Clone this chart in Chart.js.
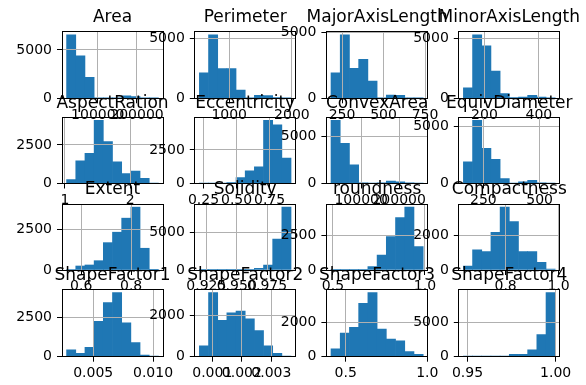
<!DOCTYPE html>
<html>
<head>
<meta charset="utf-8">
<script src="https://cdn.jsdelivr.net/npm/chart.js@4.4.1/dist/chart.umd.min.js"></script>
<style>
  html, body { margin: 0; padding: 0; background: #fff; }
  #wrap { position: relative; width: 586px; height: 385px; overflow: hidden; }
  #wrap canvas { position: absolute; left: -60px; top: -60px; }
</style>
</head>
<body>
<div id="wrap"></div>
<script>
// one histogram per column, 10 bins each
const names = ['Area', 'Perimeter', 'MajorAxisLength', 'MinorAxisLength',
  'AspectRation', 'Eccentricity', 'ConvexArea', 'EquivDiameter',
  'Extent', 'Solidity', 'roundness', 'Compactness',
  'ShapeFactor1', 'ShapeFactor2', 'ShapeFactor3', 'ShapeFactor4'];

// lowest and highest value of each column (first and last bin edge)
const binMin = [20420, 524.736, 183.601, 122.513, 1.0249, 0.219, 20684, 161.243,
  0.5414, 0.919246, 0.489618, 0.640577, 0.002778, 0.000564, 0.410339, 0.947687];
const binMax = [254616, 1985.37, 738.86, 460.198, 2.4303, 0.9114, 263261, 569.374,
  0.9093, 0.994677, 0.990685, 0.987303, 0.010451, 0.003665, 0.974767, 0.999733];

// bin counts
const area          = [6550, 4390, 2170, 60, 15, 60, 260, 190, 60, 12];
const perimeter     = [2130, 5330, 2500, 2500, 690, 40, 240, 220, 60, 3];
const majorAxis     = [1940, 4820, 2270, 2955, 1310, 30, 250, 230, 40, 3];
const minorAxis     = [860, 5265, 4350, 2260, 390, 60, 110, 250, 110, 5];
const aspectRation  = [260, 1475, 1960, 4090, 2720, 1410, 650, 800, 330, 10];
const eccentricity  = [2, 5, 20, 75, 450, 950, 1250, 4700, 4375, 1900];
const convexArea    = [6720, 4290, 2000, 60, 15, 60, 260, 190, 60, 12];
const equivDiameter = [1900, 5550, 3090, 2120, 440, 20, 140, 290, 60, 2];
const extent        = [30, 245, 307, 570, 1676, 2315, 3175, 3850, 1332, 5];
const solidity      = [5, 3, 10, 20, 30, 60, 220, 650, 4150, 8450];
const roundness     = [2, 5, 10, 30, 240, 1070, 2390, 3750, 4500, 1670];
const compactness   = [233, 1166, 1069, 2196, 3655, 2818, 1069, 1069, 450, 60];
const shapeFactor1  = [430, 215, 600, 2245, 3420, 4060, 2137, 900, 110, 10];
const shapeFactor2  = [526, 3115, 1771, 2130, 2214, 1835, 1264, 526, 164, 10];
const shapeFactor3  = [450, 1363, 1697, 3083, 3703, 1597, 1012, 918, 293, 135];
const shapeFactor4  = [3, 5, 10, 20, 60, 340, 340, 985, 3190, 9305];

const counts = [area, perimeter, majorAxis, minorAxis, aspectRation, eccentricity,
  convexArea, equivDiameter, extent, solidity, roundness, compactness,
  shapeFactor1, shapeFactor2, shapeFactor3, shapeFactor4];

// y axis: 0 plus one labelled tick
const yTicks = [5000, 5000, 5000, 5000, 2500, 2500, 5000, 5000,
  2500, 5000, 2500, 2000, 2500, 2000, 2000, 5000];

// x axis ticks and their text
const xTicks = [[100000, 200000], [1000, 2000], [250, 500, 750], [200, 400],
  [1, 2], [0.25, 0.5, 0.75], [100000, 200000], [250, 500],
  [0.6, 0.8], [0.925, 0.95, 0.975], [0.5, 1.0], [0.8, 1.0],
  [0.005, 0.010], [0.001, 0.002, 0.003], [0.5, 1.0], [0.95, 1.0]];
const xLabels = [['100000', '200000'], ['1000', '2000'], ['250', '500', '750'], ['200', '400'],
  ['1', '2'], ['0.25', '0.50', '0.75'], ['100000', '200000'], ['250', '500'],
  ['0.6', '0.8'], ['0.925', '0.950', '0.975'], ['0.5', '1.0'], ['0.8', '1.0'],
  ['0.005', '0.010'], ['0.001', '0.002', '0.003'], ['0.5', '1.0'], ['0.95', '1.00']];

// page layout (plot frames of the 4x4 grid), canvases overhang the page by EDGE
const W = 586, H = 385, EDGE = 60;
const colLeft = [62, 194.8, 326.4, 458.8];
const colRight = [163, 295.6, 427.8, 559.8];
const rowTop = [31.7, 117.3, 204, 289.3];
const rowBottom = [98.3, 183.5, 270, 356.7];
const titleSize = 17;
const titleBox = titleSize * 1.2 + 4;
const sideBox = 60;
const xBox = 35;

Chart.defaults.font.family = '"DejaVu Sans", sans-serif';
Chart.defaults.font.size = 14;
Chart.defaults.color = '#000';

const wrap = document.getElementById('wrap');

names.forEach((name, i) => {
    const bins = counts[i];
    const lo = binMin[i], hi = binMax[i];
    const step = (hi - lo) / bins.length;
    const margin = (hi - lo) * 0.05;
    const r = Math.floor(i / 4), c = i % 4;
    const L = colLeft[c] + EDGE, R = colRight[c] + EDGE;
    const T = rowTop[r] + EDGE, B = rowBottom[r] + EDGE;
    const CW = W + 2 * EDGE, CH = H + 2 * EDGE;

    const canvas = document.createElement('canvas');
    canvas.width = CW;
    canvas.height = CH;
    wrap.appendChild(canvas);

    const frame = { color: '#000', width: 1, z: 2 };

    new Chart(canvas, {
        type: 'bar',
        data: {
            datasets: [{
                data: bins.map((v, k) => ({ x: lo + (k + 0.5) * step, y: v })),
                backgroundColor: '#1f77b4',
                borderWidth: 0,
                barPercentage: 1,
                categoryPercentage: 1
            }]
        },
        options: {
            responsive: false,
            animation: false,
            devicePixelRatio: 1,
            layout: {
                padding: { left: L - sideBox, right: CW - R - sideBox, top: T - titleBox, bottom: CH - B - xBox }
            },
            plugins: {
                legend: { display: false },
                tooltip: { enabled: false },
                title: {
                    display: true,
                    text: name,
                    fullSize: true,
                    color: '#000',
                    font: { size: titleSize, weight: 'normal' },
                    padding: { top: 0, bottom: 4 }
                }
            },
            scales: {
                x: {
                    type: 'linear',
                    min: lo - margin,
                    max: hi + margin,
                    bounds: 'data',
                    offset: false,
                    afterFit: s => { s.height = xBox; },
                    afterBuildTicks: s => { s.ticks = xTicks[i].map(v => ({ value: v })); },
                    ticks: { autoSkip: false, maxRotation: 0, minRotation: 0, padding: 3.3,
                        callback: (v, k) => xLabels[i][k] },
                    grid: { color: '#b0b0b0', lineWidth: 1, tickColor: '#000', tickLength: 5, offset: false, z: 1 },
                    border: frame
                },
                y: {
                    type: 'linear',
                    min: 0,
                    max: Math.max(...bins) * 1.05,
                    bounds: 'data',
                    afterFit: s => { s.width = sideBox; },
                    afterBuildTicks: s => { s.ticks = [0, yTicks[i]].map(v => ({ value: v })); },
                    ticks: { padding: 5, callback: v => String(v) },
                    grid: { color: '#b0b0b0', lineWidth: 1, tickColor: '#000', tickLength: 5, z: 1 },
                    border: frame
                },
                x2: {
                    type: 'linear', position: 'top', min: 0, max: 1,
                    afterFit: s => { s.height = 0; },
                    ticks: { display: false },
                    grid: { display: false, drawTicks: false },
                    border: frame
                },
                y2: {
                    type: 'linear', position: 'right', min: 0, max: 1,
                    afterFit: s => { s.width = sideBox; },
                    ticks: { display: false },
                    grid: { display: false, drawTicks: false },
                    border: frame
                }
            }
        }
    });
});
</script>
</body>
</html>
